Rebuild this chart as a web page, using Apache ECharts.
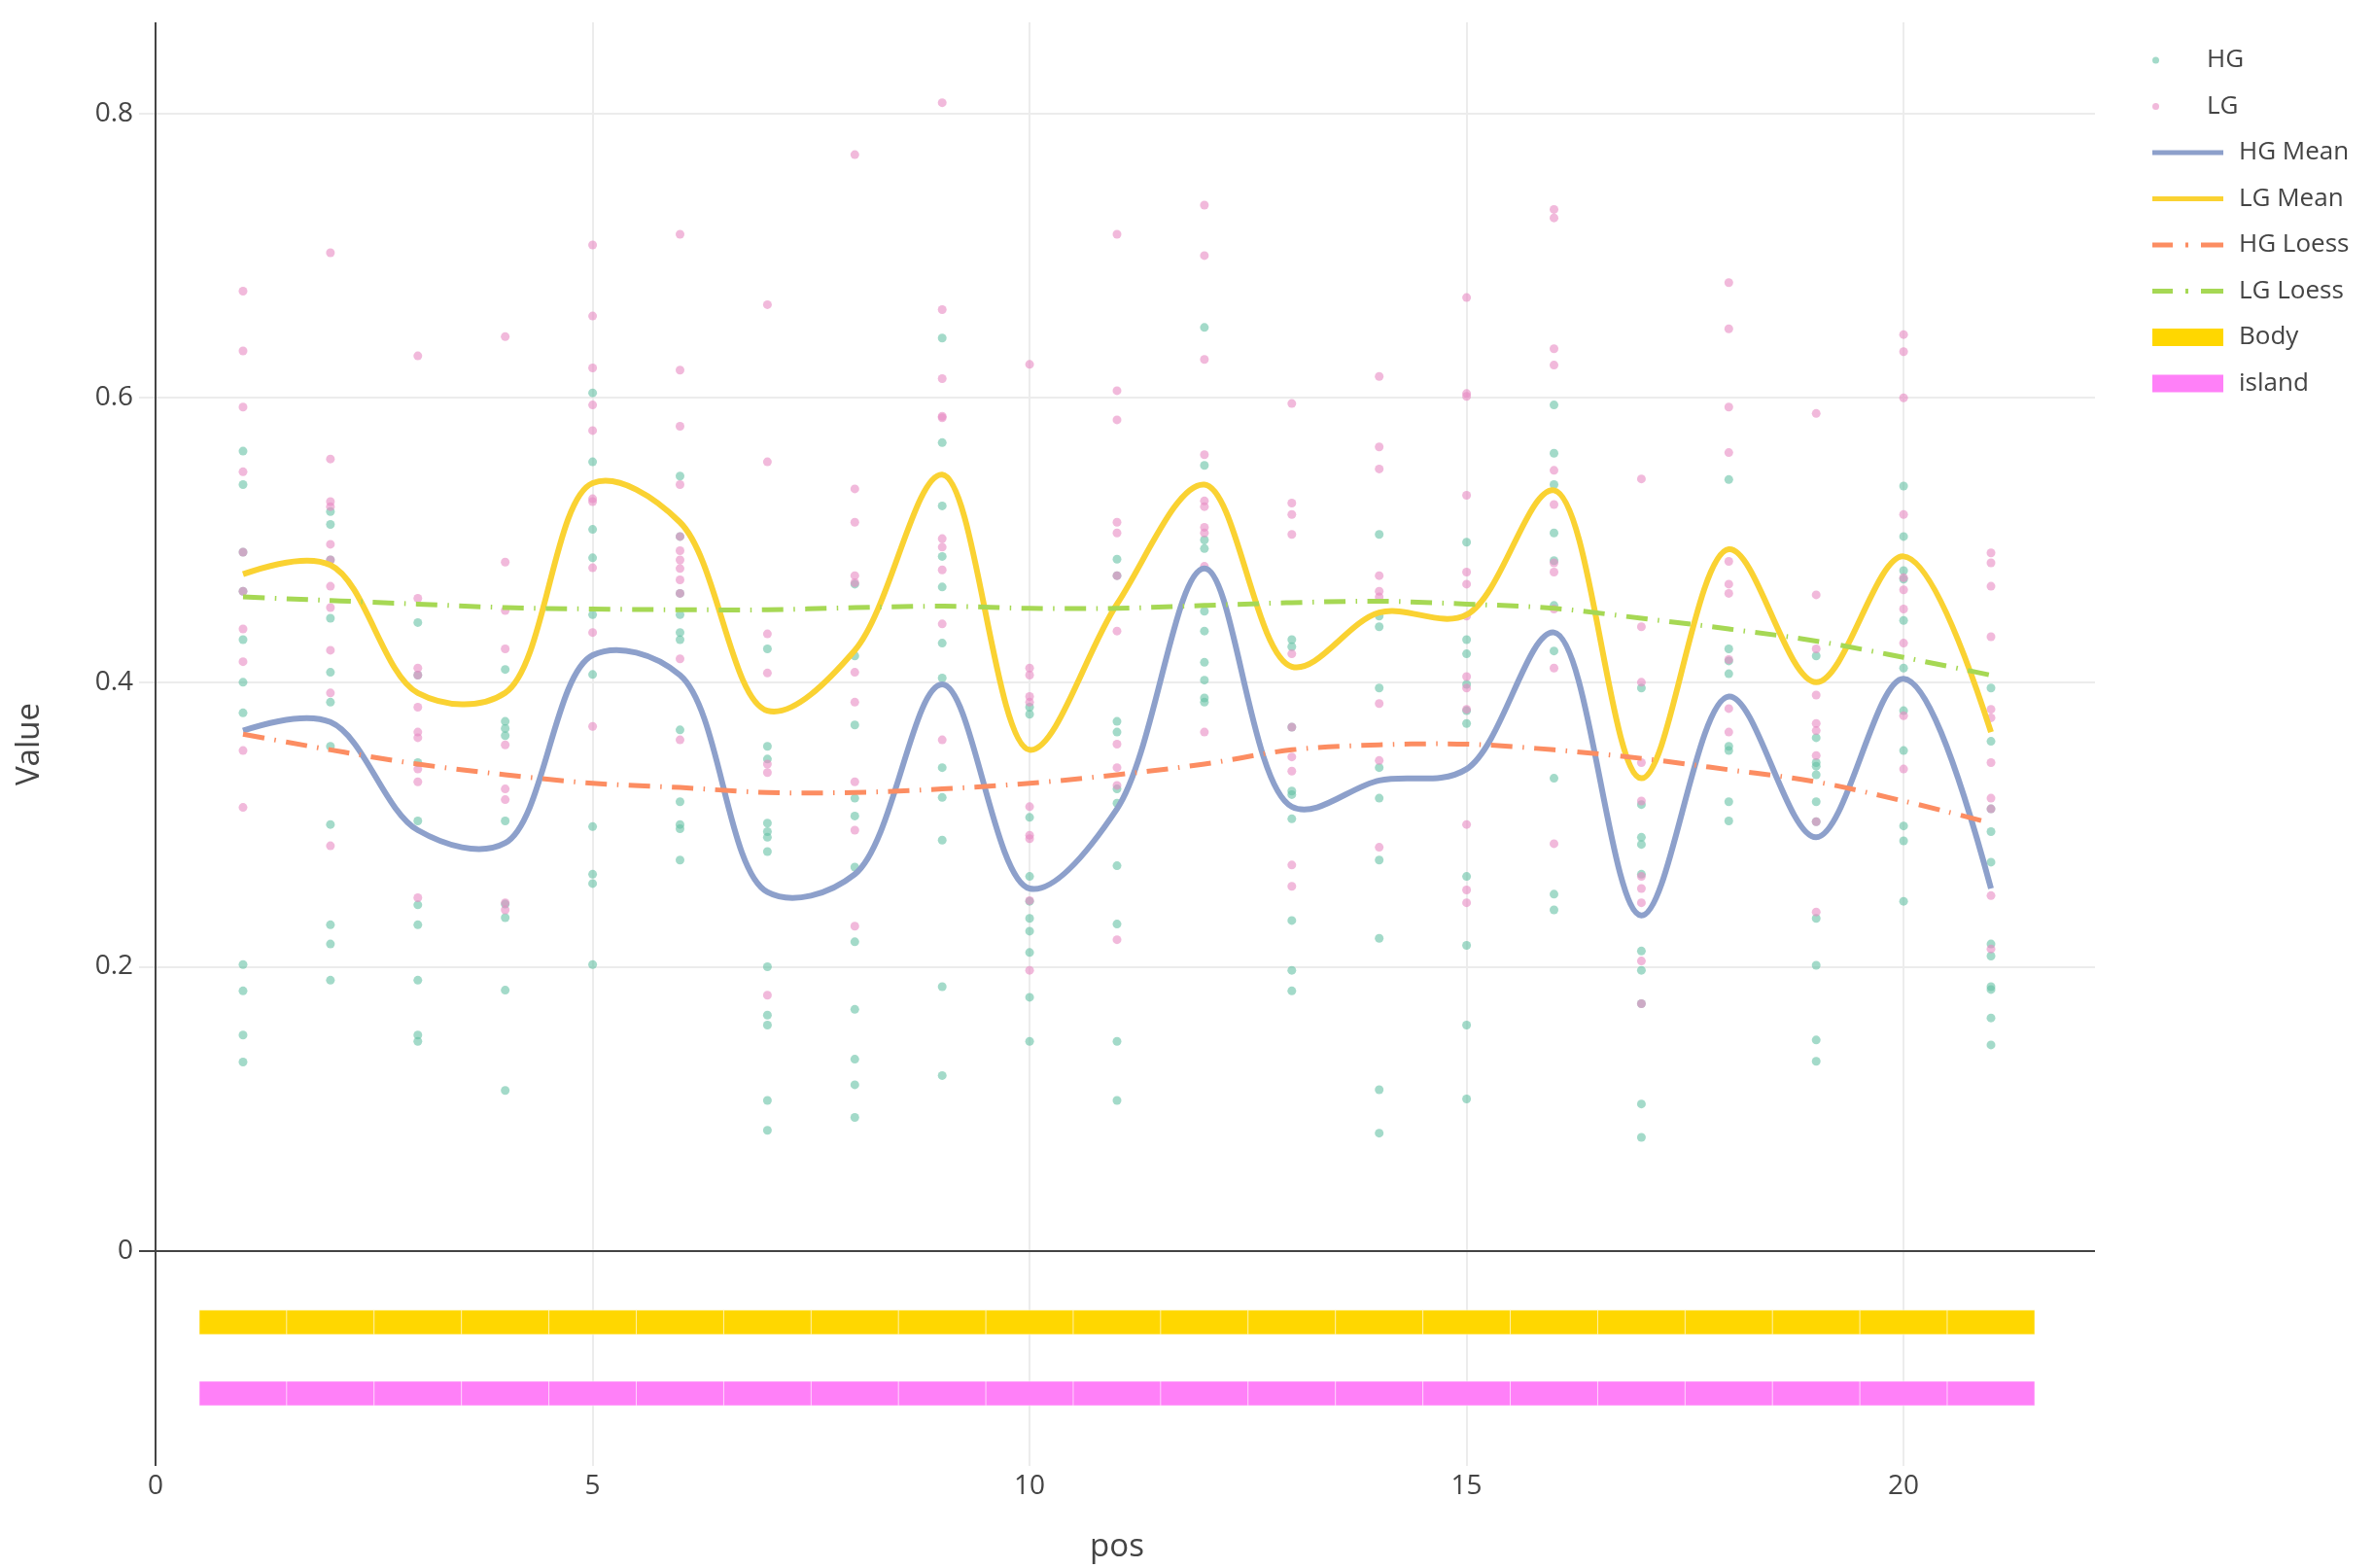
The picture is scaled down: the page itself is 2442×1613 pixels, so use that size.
<!DOCTYPE html>
<html>
<head>
<meta charset="utf-8">
<script src="https://cdn.jsdelivr.net/npm/echarts@6/dist/echarts.min.js"></script>
<style>
html,body{margin:0;padding:0;background:#fff;}
#chart{width:2442px;height:1613px;}
</style>
</head>
<body>
<div id="chart"></div>
<script>
// ---------------- DATA ----------------
const positions = [1,2,3,4,5,6,7,8,9,10,11,12,13,14,15,16,17,18,19,20,21];

// individual HG observations at each position (index = position - 1)
const hgValues = [
  [0.5625,0.539,0.4915,0.464,0.43,0.40,0.3785,0.2015,0.183,0.152,0.133],
  [0.52,0.511,0.486,0.445,0.407,0.386,0.355,0.30,0.2295,0.216,0.1905],
  [0.442,0.405,0.3435,0.3025,0.2435,0.2295,0.1905,0.152,0.1475],
  [0.409,0.3725,0.3675,0.3625,0.3025,0.244,0.2345,0.1835,0.113],
  [0.6035,0.555,0.5075,0.4875,0.4475,0.4055,0.2985,0.265,0.2585,0.2015],
  [0.545,0.5025,0.4625,0.4475,0.435,0.43,0.3665,0.316,0.30,0.297,0.275],
  [0.4235,0.355,0.346,0.301,0.295,0.291,0.281,0.20,0.166,0.159,0.106,0.085],
  [0.469,0.4185,0.37,0.3185,0.306,0.27,0.2175,0.17,0.135,0.117,0.094],
  [0.642,0.5685,0.524,0.4885,0.467,0.4275,0.403,0.34,0.319,0.289,0.186,0.1235],
  [0.3825,0.3775,0.305,0.2635,0.246,0.234,0.225,0.21,0.1785,0.1475],
  [0.4865,0.475,0.3725,0.365,0.325,0.315,0.271,0.23,0.1475,0.106],
  [0.6495,0.5525,0.50,0.494,0.45,0.436,0.414,0.4015,0.389,0.386],
  [0.43,0.425,0.3685,0.3235,0.321,0.304,0.2325,0.1975,0.183],
  [0.504,0.4465,0.439,0.396,0.34,0.3185,0.275,0.22,0.1135,0.083],
  [0.4985,0.43,0.42,0.3985,0.38,0.371,0.2635,0.215,0.159,0.107],
  [0.595,0.561,0.539,0.505,0.4855,0.454,0.422,0.3325,0.251,0.24],
  [0.396,0.314,0.291,0.286,0.265,0.211,0.1975,0.174,0.1035,0.08],
  [0.5425,0.4235,0.415,0.406,0.355,0.352,0.316,0.3025],
  [0.4185,0.361,0.3435,0.341,0.335,0.316,0.302,0.234,0.201,0.1485,0.1335],
  [0.538,0.5025,0.4785,0.4725,0.4435,0.41,0.38,0.352,0.299,0.2885,0.246],
  [0.396,0.3585,0.311,0.295,0.2735,0.216,0.2075,0.186,0.184,0.164,0.145]
];

// individual LG observations at each position
const lgValues = [
  [0.675,0.633,0.5935,0.548,0.4915,0.464,0.4375,0.4145,0.352,0.312],
  [0.702,0.557,0.527,0.5235,0.497,0.486,0.4675,0.4525,0.4225,0.3925,0.285],
  [0.6295,0.459,0.41,0.405,0.3825,0.365,0.361,0.339,0.33,0.2485],
  [0.643,0.4845,0.4505,0.4235,0.356,0.325,0.3175,0.245,0.24],
  [0.7075,0.6575,0.621,0.595,0.577,0.529,0.527,0.4805,0.435,0.369],
  [0.715,0.6195,0.58,0.539,0.5025,0.4925,0.486,0.48,0.472,0.4625,0.4165,0.3595],
  [0.6655,0.555,0.434,0.4065,0.3425,0.3365,0.18],
  [0.771,0.536,0.5125,0.475,0.47,0.407,0.386,0.33,0.296,0.2285],
  [0.8075,0.662,0.6135,0.587,0.586,0.501,0.495,0.479,0.441,0.3595],
  [0.6235,0.41,0.405,0.39,0.386,0.3125,0.2925,0.29,0.2465,0.1975],
  [0.715,0.605,0.5845,0.5125,0.505,0.475,0.436,0.3565,0.34,0.3275,0.219],
  [0.7355,0.70,0.627,0.56,0.5275,0.5235,0.509,0.505,0.4815,0.365],
  [0.596,0.526,0.518,0.504,0.42,0.3685,0.3475,0.3375,0.2715,0.2565],
  [0.615,0.5655,0.55,0.475,0.464,0.46,0.385,0.345,0.284],
  [0.6705,0.603,0.601,0.5315,0.4775,0.469,0.4465,0.404,0.396,0.381,0.30,0.254,0.245],
  [0.7325,0.7265,0.6345,0.623,0.549,0.525,0.484,0.4775,0.4515,0.41,0.2865],
  [0.543,0.439,0.40,0.3435,0.3165,0.2635,0.255,0.245,0.204,0.174],
  [0.681,0.6485,0.5935,0.5615,0.485,0.469,0.4625,0.416,0.3815,0.365],
  [0.589,0.4615,0.4235,0.391,0.371,0.366,0.3485,0.302,0.2385],
  [0.6445,0.6325,0.60,0.518,0.4735,0.465,0.4515,0.4275,0.3765,0.339],
  [0.491,0.484,0.4675,0.432,0.381,0.375,0.3435,0.3185,0.311,0.25,0.2125]
];

const hgMean  = [0.366,0.372,0.296,0.287,0.419,0.405,0.2525,0.265,0.3985,0.255,0.311,0.48,0.3125,0.331,0.339,0.435,0.236,0.39,0.291,0.4025,0.255];
const lgMean  = [0.476,0.4825,0.3925,0.3925,0.54,0.5125,0.38,0.4225,0.546,0.3525,0.455,0.539,0.411,0.449,0.4475,0.535,0.3325,0.4935,0.40,0.4885,0.365];
const hgLoess = [0.3635,0.3525,0.3425,0.335,0.329,0.326,0.3225,0.3225,0.325,0.329,0.335,0.3425,0.3525,0.356,0.3565,0.3525,0.3465,0.3385,0.33,0.3165,0.301];
const lgLoess = [0.46,0.4575,0.455,0.4525,0.4515,0.451,0.451,0.4525,0.4535,0.452,0.452,0.454,0.456,0.457,0.455,0.452,0.445,0.4375,0.429,0.4175,0.405];

// region annotation bars: one unit-wide cell per position
const bodyLevel = -0.05;
const islandLevel = -0.1;
const regionCellWidth = 1;

const xTicks = [0,5,10,15,20];
const yTicks = [0,0.2,0.4,0.6,0.8];

// ---------------- BUILD ----------------
const pairs = (vals) => positions.map((p,i)=>[p, vals[i]]);
const scatterPairs = (groups) => {
  const out = [];
  groups.forEach((g,i)=> g.forEach(v => out.push([positions[i], v])));
  return out;
};

const FONT = "'Open Sans', 'Noto Sans', sans-serif";
const TXT = '#444';
const SMOOTHING = 1;

// Catmull-Rom style spline through pixel points (same scheme as plotly's 'spline' line shape)
function makeTangent(p0, p1, p2, s){
  const d1x = p0[0]-p1[0], d1y = p0[1]-p1[1];
  const d2x = p2[0]-p1[0], d2y = p2[1]-p1[1];
  const d1a = Math.pow(d1x*d1x + d1y*d1y, 0.25);
  const d2a = Math.pow(d2x*d2x + d2y*d2y, 0.25);
  const numx = (d2a*d2a*d1x - d1a*d1a*d2x)*s;
  const numy = (d2a*d2a*d1y - d1a*d1a*d2y)*s;
  const den1 = 3*d2a*(d1a+d2a), den2 = 3*d1a*(d1a+d2a);
  return [[p1[0] + (den1 && numx/den1), p1[1] + (den1 && numy/den1)],
          [p1[0] - (den2 && numx/den2), p1[1] - (den2 && numy/den2)]];
}
function splinePath(pts, s){
  const f = p => p[0].toFixed(2)+','+p[1].toFixed(2);
  if (pts.length < 3) return 'M'+pts.map(f).join('L');
  const t = [];
  for (let i=1;i<pts.length-1;i++) t.push(makeTangent(pts[i-1], pts[i], pts[i+1], s));
  let d = 'M'+f(pts[0])+'Q'+f(t[0][0])+' '+f(pts[1]);
  for (let i=2;i<pts.length-1;i++) d += 'C'+f(t[i-2][1])+' '+f(t[i-1][0])+' '+f(pts[i]);
  d += 'Q'+f(t[pts.length-3][1])+' '+f(pts[pts.length-1]);
  return d;
}

function splineSeries(name, vals, color, width, dash, z){
  return {
    name, type:'custom', z, itemStyle:{color},
    data: pairs(vals),
    encode:{x:0, y:1},
    renderItem:(params, api)=>{
      if (params.dataIndex !== 0) return null;
      const pts = positions.map((p,i)=>api.coord([p, vals[i]]));
      return {
        type:'path',
        shape:{pathData: splinePath(pts, SMOOTHING)},
        style:{fill:'none', stroke:color, lineWidth:width, lineDash:dash, lineCap:'butt', lineJoin:'round'}
      };
    }
  };
}

function regionSeries(name, level, color){
  return {
    name, type:'custom', z:1,
    itemStyle:{color},
    data: positions.map(p=>[p, level]),
    encode:{x:0, y:1},
    renderItem:(params, api)=>{
      const x = api.value(0), y = api.value(1);
      const a = api.coord([x - regionCellWidth/2, y]);
      const b = api.coord([x + regionCellWidth/2, y]);
      const h = 25;
      return {type:'rect', shape:{x:a[0], y:a[1]-h/2, width:b[0]-a[0], height:h},
        style:{fill:color, stroke:'rgba(255,255,255,0.45)', lineWidth:1}};
    }
  };
}

const SOLID_ICON = 'path://M0,0H73V5H0Z';
const DASHDOT_ICON = 'path://M0,0H21V5H0Z M34,0H37V5H34Z M50,0H73V5H50Z';
const DASHDOT = [22, 10.5, 1.5, 10.5];

const chart = echarts.init(document.getElementById('chart'), null, {renderer:'canvas'});
const legendCommon = {
  orient:'vertical', left:2209, itemWidth:73, itemGap:17.5,
  textStyle:{fontFamily:FONT, fontSize:26, color:TXT, lineHeight:30, padding:[0,0,0,11]},
  selectedMode:true
};

chart.setOption({
  animation:false,
  backgroundColor:'#fff',
  grid:{left:143, right:287, top:23, bottom:100, containLabel:false},
  legend:[
    Object.assign({}, legendCommon, {top:42, itemHeight:7, data:[{name:'HG', icon:'circle'},{name:'LG', icon:'circle'}]}),
    Object.assign({}, legendCommon, {top:137, itemHeight:5, data:[
      {name:'HG Mean', icon:SOLID_ICON},{name:'LG Mean', icon:SOLID_ICON},
      {name:'HG Loess', icon:DASHDOT_ICON},{name:'LG Loess', icon:DASHDOT_ICON}]}),
    Object.assign({}, legendCommon, {top:327, itemHeight:18, data:[{name:'Body', icon:'rect'},{name:'island', icon:'rect'}]})
  ],
  xAxis:{
    type:'value', min:-0.19, max:22.19,
    name:'pos', nameLocation:'middle', nameGap:67,
    nameTextStyle:{fontFamily:FONT, fontSize:33, color:TXT},
    axisLine:{show:false},
    axisTick:{show:false, customValues:xTicks},
    axisLabel:{customValues:xTicks, fontFamily:FONT, fontSize:28, color:TXT, margin:7},
    splitLine:{show:true, lineStyle:{color:'#ececec', width:2}}
  },
  yAxis:{
    type:'value', min:-0.151, max:0.864,
    name:'Value', nameLocation:'middle', nameGap:96,
    nameTextStyle:{fontFamily:FONT, fontSize:33, color:TXT},
    axisLine:{show:false},
    axisTick:{show:false, customValues:yTicks},
    axisLabel:{customValues:yTicks, fontFamily:FONT, fontSize:28, color:TXT, margin:6},
    splitLine:{show:true, lineStyle:{color:'#ececec', width:2}}
  },
  series:[
    regionSeries('Body', bodyLevel, '#ffd700'),
    regionSeries('island', islandLevel, '#ff80f8'),
    {
      name:'HG', type:'scatter', z:2, symbol:'circle', symbolSize:9,
      itemStyle:{color:'#66c2a5', opacity:0.6},
      data:scatterPairs(hgValues),
      markLine:{
        silent:true, symbol:'none', label:{show:false}, z:1,
        lineStyle:{color:'#444', width:2, type:'solid'},
        emphasis:{disabled:true},
        data:[{yAxis:0},{xAxis:0}]
      }
    },
    {
      name:'LG', type:'scatter', z:2, symbol:'circle', symbolSize:9,
      itemStyle:{color:'#e78ac3', opacity:0.6},
      data:scatterPairs(lgValues)
    },
    splineSeries('HG Mean', hgMean, '#8da0cb', 6, null, 3),
    splineSeries('LG Mean', lgMean, '#fad232', 6, null, 3),
    splineSeries('HG Loess', hgLoess, '#fc8d62', 5, DASHDOT, 4),
    splineSeries('LG Loess', lgLoess, '#a6d854', 5, DASHDOT, 4)
  ]
});
</script>
</body>
</html>
